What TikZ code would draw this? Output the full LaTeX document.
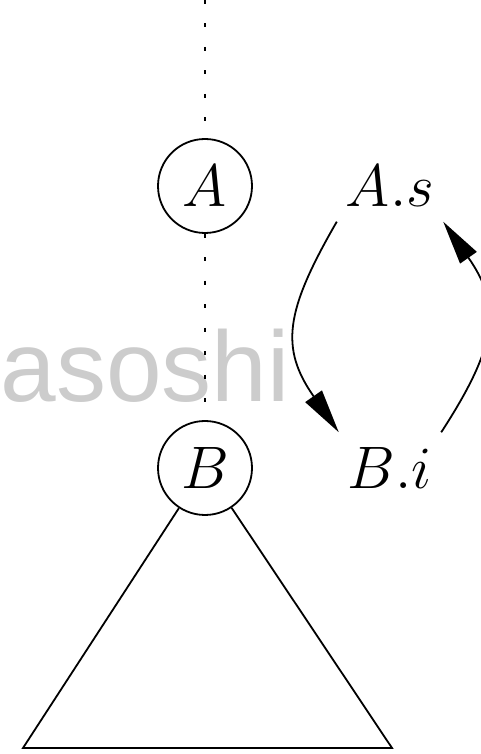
\RequirePackage{fix-cm}
\documentclass[tikz,border=0pt]{standalone}
\usepackage{amsmath}
\usepackage{fontspec}
\newfontfamily\wmfont{Liberation Sans}
\usepackage{tikz}
\usetikzlibrary{arrows.meta}
\tikzstyle{treenode} = [circle, draw=black, line width=1.8pt, minimum size=94pt, inner sep=0pt]
\tikzstyle{attrlabel} = [inner xsep=9pt, inner ysep=15pt]
\tikzstyle{dotline} = [line width=2.2pt, dash pattern=on 4pt off 19.5pt]
\tikzstyle{arrow} = [line width=1.8pt, -{Triangle[length=44pt, width=20pt]}, looseness=1.25]

\begin{document}
\begin{tikzpicture}[x=1pt, y=1pt, node distance=282pt, font=\fontsize{60}{72}\selectfont]
  \useasboundingbox (0,0) rectangle (481,754);

  % watermark
  \node (wm) [anchor=base east, inner sep=0pt, text=black!20, font=\wmfont\fontsize{100}{120}\selectfont] at (290,352) {asoshi};

  \node (A) [treenode] at (205,568) {$A$};
  \node (B) [treenode, below of=A] {$B$};
  \node (As) [attrlabel, right of=A, node distance=185pt] {$A.s$};
  \node (Bi) [attrlabel, right of=B, node distance=185pt] {$B.i$};

  \coordinate (top) at (205,754);
  \coordinate (bl) at (23,6);
  \coordinate (br) at (392,6);

  \draw [dotline] (top) -- (A);
  \draw [dotline] (A) -- (B);

  % subtree under B
  \draw [line width=1.8pt] (B) -- (bl) -- (br) -- (B);

  \draw [arrow] (As.south west) to[out=240, in=125] (Bi.north west);
  \draw [arrow] (Bi.north east) to[out=57, in=305] (As.south east);
\end{tikzpicture}
\end{document}
